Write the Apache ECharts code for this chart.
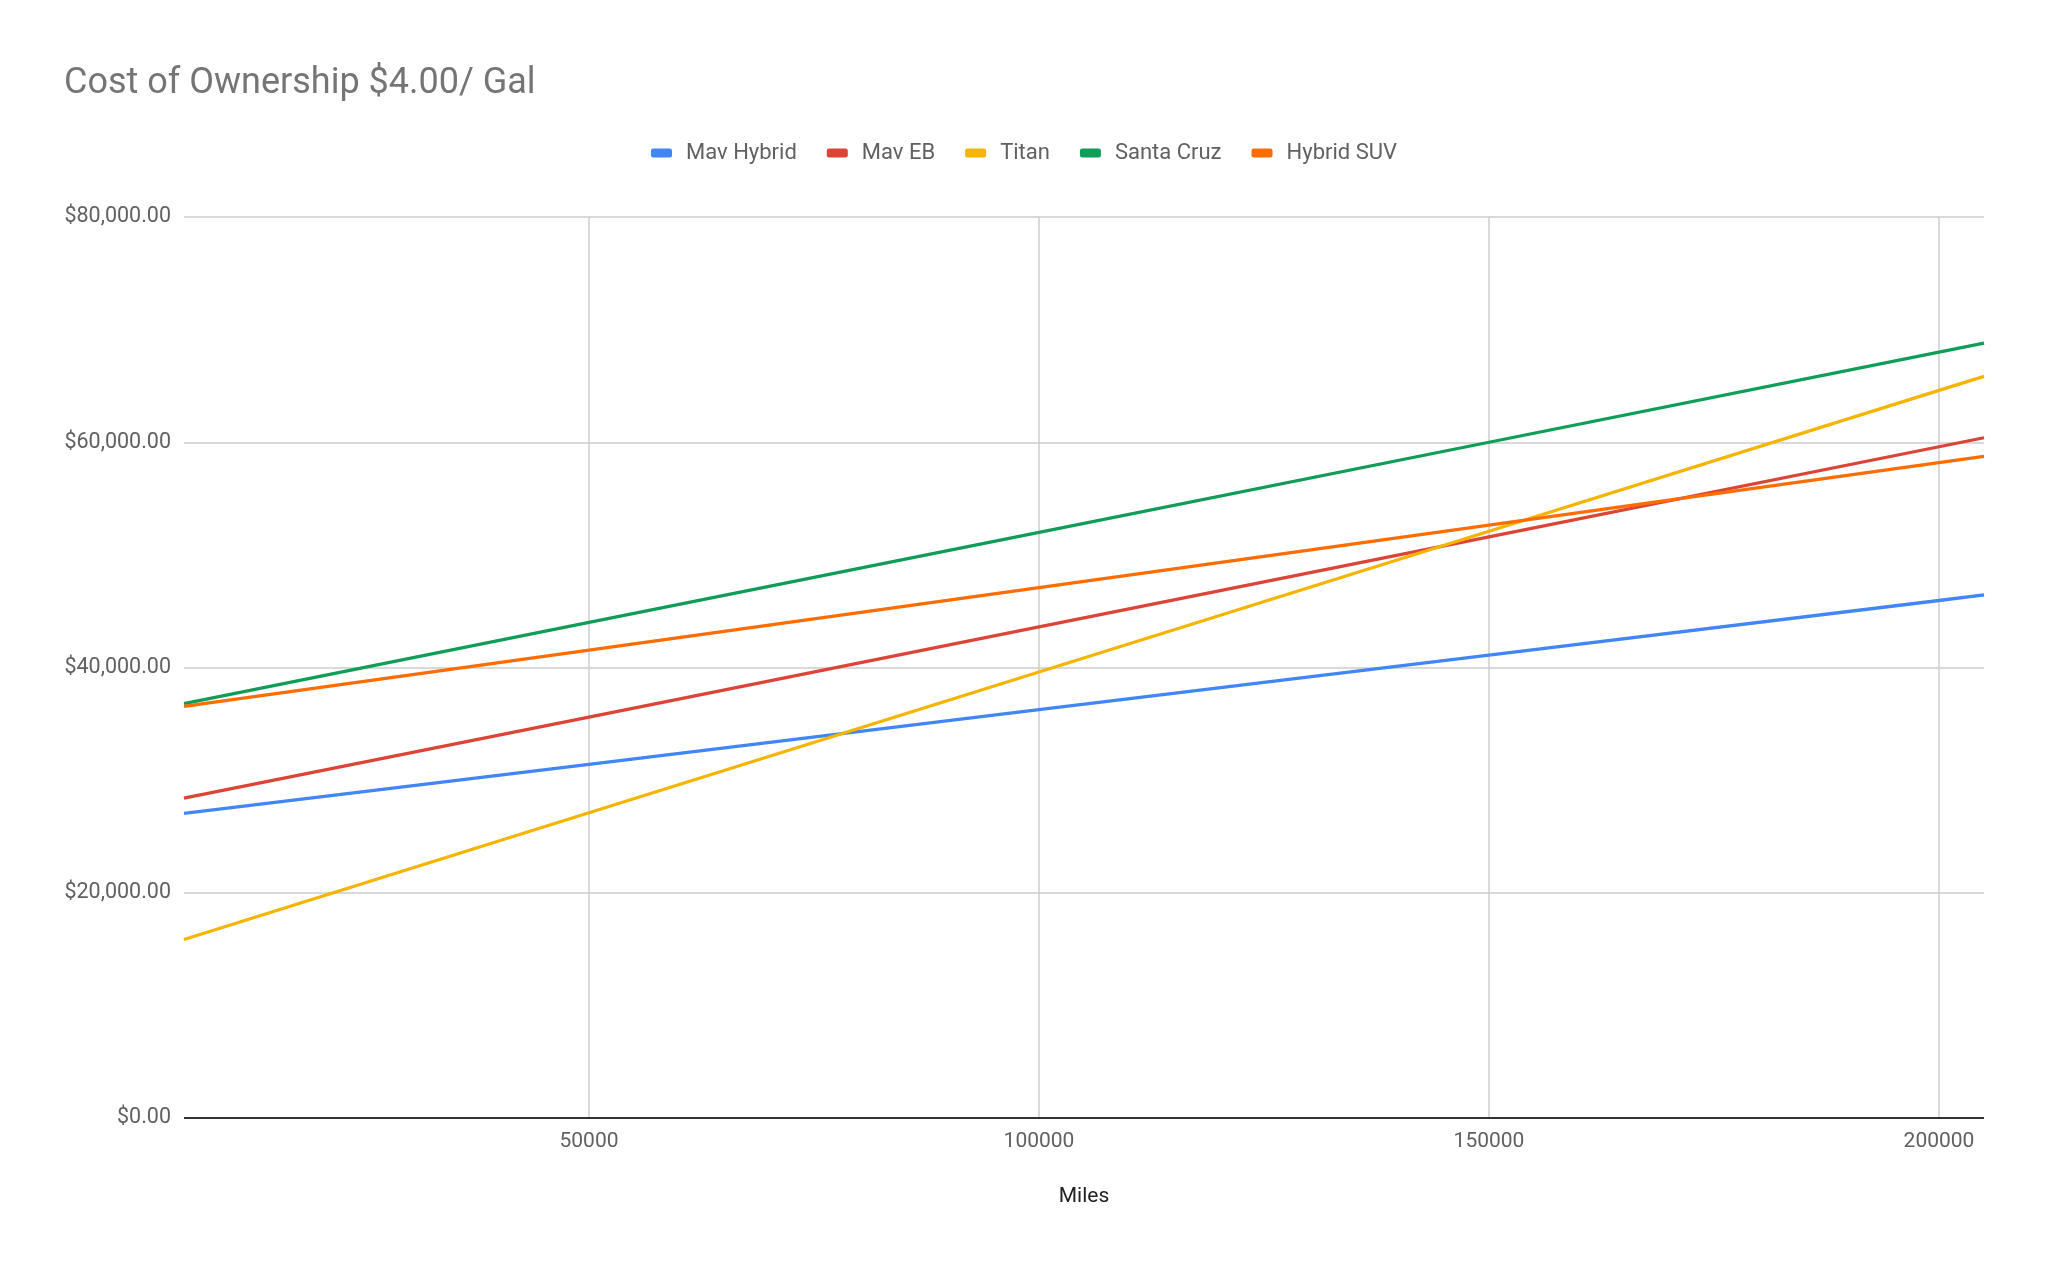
<!DOCTYPE html>
<html>
<head>
<meta charset="utf-8">
<script src="https://cdn.jsdelivr.net/npm/echarts@6/dist/echarts.min.js"></script>
<style>html,body{margin:0;padding:0;background:#fff}#c{width:2048px;height:1270px}</style>
</head>
<body>
<div id="c"></div>
<script>
const miles = [5000, 50000, 100000, 150000, 200000, 205000];
const mavHybrid = [27050, 31400, 36250, 41100, 45950, 46450];
const mavEB = [28400, 35600, 43600, 51600, 59600, 60400];
const titan = [15850, 27100, 39600, 52100, 64600, 65850];
const santaCruz = [36800, 44000, 52000, 60000, 68000, 68800];
const hybridSUV = [36550, 41550, 47100, 52650, 58200, 58750];
const seriesNames = ['Mav Hybrid', 'Mav EB', 'Titan', 'Santa Cruz', 'Hybrid SUV'];
const seriesValues = [mavHybrid, mavEB, titan, santaCruz, hybridSUV];
const xTicks = [50000, 100000, 150000, 200000];
const colors = ['#4285F4', '#DB4437', '#F4B400', '#0F9D58', '#FF6D00'];

const chart = echarts.init(document.getElementById('c'));
const fmt = v => '$' + v.toLocaleString('en-US', {minimumFractionDigits: 2, maximumFractionDigits: 2});
chart.setOption({
  animation: false,
  color: colors,
  textStyle: {fontFamily: 'Roboto'},
  title: {
    text: 'Cost of Ownership $4.00/ Gal',
    left: 64, top: 66, padding: 0,
    textStyle: {fontFamily: 'Roboto', fontSize: 36, fontWeight: 'normal', color: '#757575'}
  },
  legend: {
    top: 137, left: 'center',
    icon: 'roundRect', itemWidth: 21, itemHeight: 9, itemGap: 30,
    textStyle: {fontFamily: 'Roboto', fontSize: 22, color: '#616161', padding: [0, 0, 0, 9]},
    data: seriesNames
  },
  grid: {left: 184, right: 64, top: 217, bottom: 152, containLabel: false},
  xAxis: {
    type: 'value', min: 5000, max: 205000,
    name: 'Miles', nameLocation: 'middle', nameGap: 68,
    nameTextStyle: {fontFamily: 'Roboto', fontSize: 21, color: '#222'},
    axisLine: {show: false},
    axisTick: {show: false, customValues: xTicks},
    axisLabel: {customValues: xTicks, formatter: v => String(v), fontFamily: 'Roboto', fontSize: 21, color: '#616161', margin: 13},
    splitLine: {show: true, lineStyle: {color: '#cccccc', width: 1.5}}
  },
  yAxis: {
    type: 'value', min: 0, max: 80000, interval: 20000,
    axisLine: {show: false}, axisTick: {show: false},
    axisLabel: {formatter: fmt, fontFamily: 'Roboto', fontSize: 21.5, color: '#616161', margin: 13},
    splitLine: {show: true, lineStyle: {color: '#cccccc', width: 1.5}}
  },
  series: seriesNames.map((n, i) => ({
    name: n, type: 'line', showSymbol: false, symbol: 'none',
    lineStyle: {width: 3.3},
    data: miles.map((m, j) => [m, seriesValues[i][j]])
  })).concat([{
    type: 'line', silent: true, data: [],
    markLine: {silent: true, symbol: 'none', label: {show: false},
      lineStyle: {color: '#333', width: 2, type: 'solid'}, data: [{yAxis: 0}]}
  }])
});
</script>
</body>
</html>
